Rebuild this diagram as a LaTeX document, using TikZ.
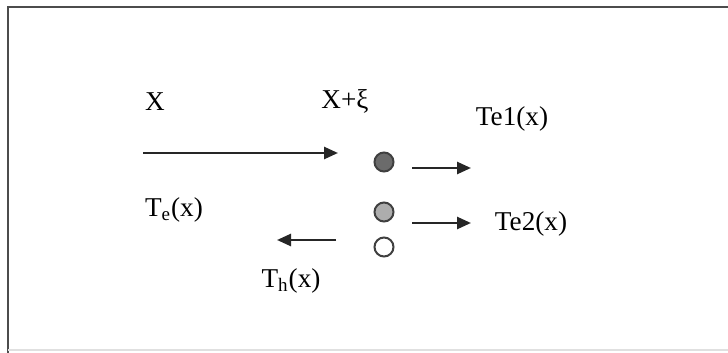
\documentclass[tikz,border=0pt]{standalone}
\usepackage{fontspec}
\setmainfont{Liberation Serif}
\usetikzlibrary{arrows.meta}
\begin{document}
\begin{tikzpicture}[x=0.5pt,y=-0.5pt,
  lbl/.style={font=\fontsize{13.6}{16}\selectfont, inner sep=0pt},
  arr/.style={line width=1.25pt, black!85, -{Triangle[length=7pt,width=6pt]}},
  dot/.style={circle, minimum size=9.5pt, inner sep=0pt, line width=1pt, draw=black!75}]
\useasboundingbox (0,0) rectangle (728,353);
\fill[white] (0,0) rectangle (728,353);
\draw[line width=1.2pt, black!70] (8,353) -- (8,7) -- (728,7);
\draw[line width=0.6pt, black!12] (8,350) -- (728,350);

% labels
\node[lbl] (lx)   at (155,102) {X};
\node[lbl] (lxi)  at (345,101) {X+ξ};
\node[lbl] (lte1) at (512,119) {Te1(x)};
\node[lbl] (lte)  at (174,210) {T\textsubscript{e}(x)};
\node[lbl] (lte2) at (531,224) {Te2(x)};
\node[lbl] (lth)  at (291,281) {T\textsubscript{h}(x)};

% dots
\node[dot, fill=black!58] (d1) at (384,162) {};
\node[dot, fill=black!32] (d2) at (384,212) {};
\node[dot, fill=white]    (d3) at (384,247) {};

% arrow end points
\coordinate (a0s) at (143,153);
\coordinate (a0e) at (338,153);
\coordinate (a1s) at (412,168);
\coordinate (a1e) at (471,168);
\coordinate (a2s) at (412,223);
\coordinate (a2e) at (471,223);
\coordinate (a3s) at (336,240);
\coordinate (a3e) at (277,240);

\draw[arr] (a0s) -- (a0e);
\draw[arr] (a1s) -- (a1e);
\draw[arr] (a2s) -- (a2e);
\draw[arr] (a3s) -- (a3e);
\end{tikzpicture}
\end{document}
